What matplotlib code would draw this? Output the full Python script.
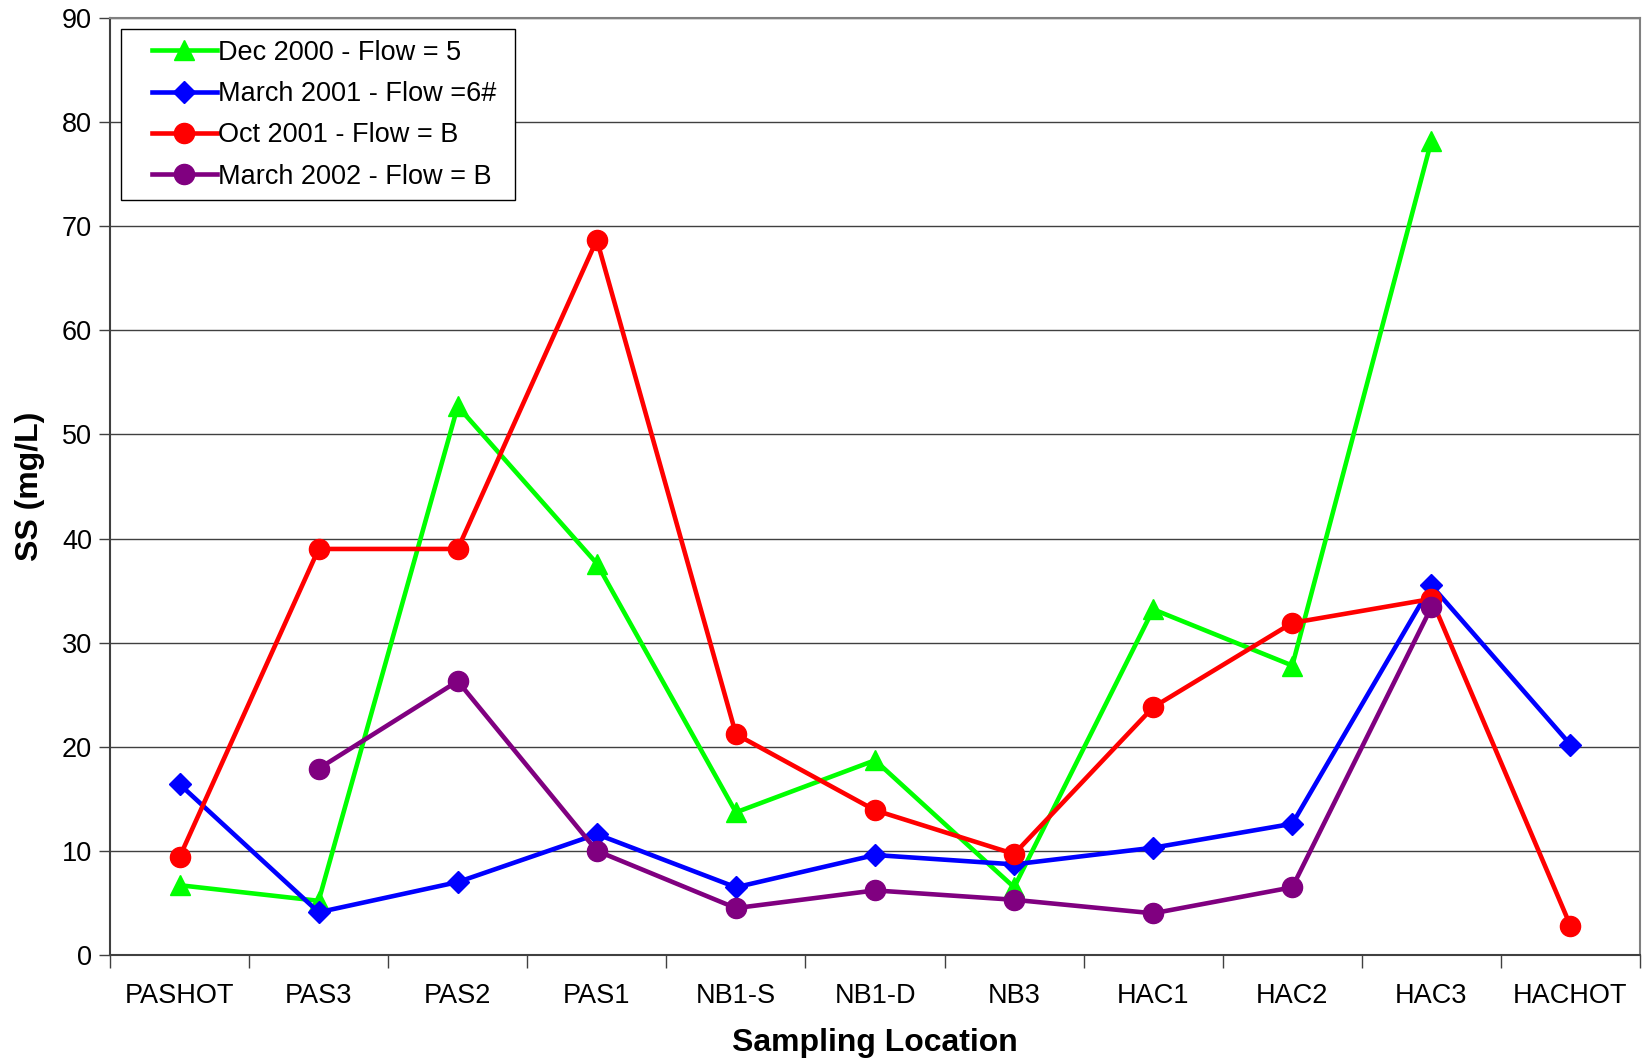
import numpy as np
import matplotlib
matplotlib.use("Agg")
import matplotlib.pyplot as plt
from matplotlib.legend_handler import HandlerLine2D

plt.rcParams['font.family'] = ['Liberation Sans', 'DejaVu Sans']

locations = ["PASHOT", "PAS3", "PAS2", "PAS1", "NB1-S", "NB1-D", "NB3",
             "HAC1", "HAC2", "HAC3", "HACHOT"]

nan = np.nan
dec_2000 = [6.7, 5.2, 52.7, 37.6, 13.7, 18.7, 6.5, 33.2, 27.8, 78.2, nan]
march_2001 = [16.4, 4.1, 7.0, 11.6, 6.5, 9.6, 8.7, 10.3, 12.6, 35.5, 20.2]
oct_2001 = [9.4, 39.0, 39.0, 68.7, 21.2, 13.9, 9.7, 23.8, 31.9, 34.2, 2.8]
march_2002 = [nan, 17.9, 26.3, 10.0, 4.5, 6.2, 5.3, 4.0, 6.5, 33.4, nan]

series_labels = ["Dec 2000 - Flow = 5", "March 2001 - Flow =6#",
                 "Oct 2001 - Flow = B", "March 2002 - Flow = B"]


class IndentedLineHandler(HandlerLine2D):
    """Legend line sample that leaves a gap before it on the left."""

    def __init__(self, indent=20, **kw):
        super().__init__(**kw)
        self.indent = indent

    def create_artists(self, legend, orig_handle, xdescent, ydescent,
                       width, height, fontsize, trans):
        return super().create_artists(legend, orig_handle, xdescent - self.indent,
                                      ydescent, width - self.indent, height,
                                      fontsize, trans)


fig = plt.figure(figsize=(16.42, 10.62), dpi=100)
ax = fig.add_axes([0.067, 0.1008, 0.9318, 0.8822])

x = np.arange(len(locations))
lw = 3.3
lines = [
    ax.plot(x, dec_2000, color="#00ff00", lw=lw, marker="^", ms=14, label=series_labels[0], zorder=3)[0],
    ax.plot(x, march_2001, color="#0000ff", lw=lw, marker="D", ms=11, label=series_labels[1], zorder=4)[0],
    ax.plot(x, oct_2001, color="#ff0000", lw=lw, marker="o", ms=14.5, label=series_labels[2], zorder=5)[0],
    ax.plot(x, march_2002, color="#800080", lw=lw, marker="o", ms=14.5, label=series_labels[3], zorder=6)[0],
]

ax.set_xlim(-0.5, len(locations) - 0.5)
ax.set_ylim(0, 90)
ax.set_yticks(np.arange(0, 91, 10))
ax.yaxis.grid(True, color="#404040", lw=1.0)
ax.set_axisbelow(True)

# category labels centred, tick marks on category boundaries
ax.set_xticks(x)
ax.set_xticklabels(locations)
ax.tick_params(axis="x", which="major", length=0, pad=20, labelsize=19.5)
ax.set_xticks(np.arange(-0.5, len(locations), 1.0), minor=True)
ax.tick_params(axis="x", which="minor", length=9, width=1, color="#404040", direction="out")
ax.tick_params(axis="y", length=8, width=1, color="#404040", direction="out", labelsize=19.5, pad=5)

for side in ["top", "right"]:
    ax.spines[side].set_color("#808080")
    ax.spines[side].set_linewidth(1.5)
ax.spines["left"].set_color("#404040")
ax.spines["bottom"].set_color("#404040")
ax.spines["left"].set_linewidth(1.5)
ax.spines["bottom"].set_linewidth(1.5)

ax.set_xlabel("Sampling Location", fontsize=23, fontweight="bold", labelpad=14)
ax.set_ylabel("SS (mg/L)", fontsize=23, fontweight="bold", labelpad=12)

handler = IndentedLineHandler(indent=15)
leg = ax.legend(handles=lines, loc="upper left",
                bbox_to_anchor=(0.0072, 0.0, 0.2575, 0.988), mode="expand",
                fontsize=19.5, frameon=True, fancybox=False, edgecolor="black",
                framealpha=1, handlelength=3.15, handletextpad=0.05,
                borderpad=0.38, labelspacing=0.57, borderaxespad=0,
                handler_map={ln: handler for ln in lines})
leg.get_frame().set_linewidth(1.0)

fig.savefig("out.png", dpi=100)
